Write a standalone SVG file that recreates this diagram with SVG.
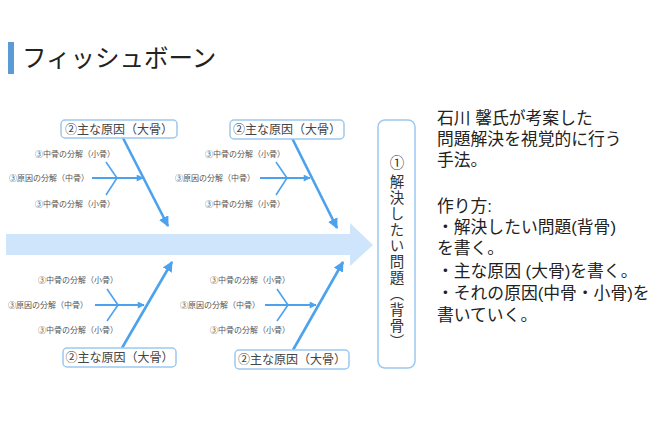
<svg xmlns="http://www.w3.org/2000/svg" width="670" height="446" viewBox="0 0 670 446">
<style>
text{font-family:"Noto Sans CJK JP","Noto Sans",sans-serif;fill:#333}
.title{font-size:24.5px;fill:#222}
.box{fill:#fff;stroke:#9cc9ef;stroke-width:1.5}
.bt{font-size:12px;fill:#444;text-anchor:middle}
.sm{font-size:8px;fill:#555}
.big{stroke:#4da2ee;stroke-width:2.6;fill:none}
.mid{stroke:#4da2ee;stroke-width:2;fill:none}
.small{stroke:#4da2ee;stroke-width:1.6;fill:none}
.desc{font-family:"Liberation Sans","Noto Sans CJK JP",sans-serif;font-size:16.8px;fill:#222}
.v{font-size:14.5px;fill:#333;writing-mode:vertical-rl;letter-spacing:1.5px}
</style>
<defs>
<marker id="ah" viewBox="0 0 10 10" refX="9" refY="5" markerWidth="4" markerHeight="4" orient="auto" markerUnits="strokeWidth">
<path d="M0,0 L10,5 L0,10 z" fill="#4da2ee"/>
</marker>
<marker id="am" viewBox="0 0 10 10" refX="9" refY="5" markerWidth="4" markerHeight="3.5" orient="auto" markerUnits="strokeWidth">
<path d="M0,0 L10,5 L0,10 z" fill="#4da2ee"/>
</marker>
</defs>
<rect width="670" height="446" fill="#fff"/>
<g id="title">
<rect x="8" y="42" width="6" height="32" fill="#5b9bd5"/>
<text class="title" x="22" y="67">フィッシュボーン</text>
</g>
<g id="spine">
<rect x="6" y="234" width="345" height="21" fill="#cfe5fb"/>
<polygon points="350,223 373,245 350,266" fill="#cfe5fb"/>
</g>
<g id="connectors">
<line class="big" x1="123" y1="138" x2="168" y2="226" marker-end="url(#ah)"/>
<line class="big" x1="292" y1="138" x2="337" y2="228" marker-end="url(#ah)"/>
<line class="big" x1="122" y1="348" x2="172" y2="262" marker-end="url(#ah)"/>
<line class="big" x1="293" y1="350" x2="343" y2="262" marker-end="url(#ah)"/>
<line class="mid" x1="92" y1="178" x2="143" y2="178" marker-end="url(#am)"/>
<line class="mid" x1="260" y1="178" x2="310" y2="178" marker-end="url(#am)"/>
<line class="mid" x1="95" y1="305" x2="144" y2="305" marker-end="url(#am)"/>
<line class="mid" x1="265" y1="305" x2="316" y2="305" marker-end="url(#am)"/>
<path class="small" d="M106,162 L117,178 L106,195"/>
<path class="small" d="M276,162 L287,178 L276,195"/>
<path class="small" d="M107,289 L118,305 L107,321"/>
<path class="small" d="M277,289 L288,305 L277,321"/>
</g>
<g id="cause-top-left">
<rect class="box" x="61" y="120" width="116" height="18" rx="4"/>
<text class="bt" x="119" y="133.5">②主な原因（大骨）</text>
</g>
<g id="cause-top-right">
<rect class="box" x="230" y="120" width="114" height="19" rx="4"/>
<text class="bt" x="287" y="134">②主な原因（大骨）</text>
</g>
<g id="cause-bottom-left">
<rect class="box" x="63" y="348" width="113" height="19" rx="4"/>
<text class="bt" x="119.5" y="362">②主な原因（大骨）</text>
</g>
<g id="cause-bottom-right">
<rect class="box" x="235" y="350" width="114" height="19" rx="4"/>
<text class="bt" x="292" y="364">②主な原因（大骨）</text>
</g>
<g id="sub-top-left">
<text class="sm" x="35" y="157">③中骨の分解（小骨）</text>
<text class="sm" x="9" y="181">③原因の分解（中骨）</text>
<text class="sm" x="35" y="207">③中骨の分解（小骨）</text>
</g>
<g id="sub-top-right">
<text class="sm" x="205" y="157">③中骨の分解（小骨）</text>
<text class="sm" x="175" y="181">③原因の分解（中骨）</text>
<text class="sm" x="205" y="207">③中骨の分解（小骨）</text>
</g>
<g id="sub-bottom-left">
<text class="sm" x="38" y="283">③中骨の分解（小骨）</text>
<text class="sm" x="8" y="308">③原因の分解（中骨）</text>
<text class="sm" x="38" y="333">③中骨の分解（小骨）</text>
</g>
<g id="sub-bottom-right">
<text class="sm" x="210" y="283">③中骨の分解（小骨）</text>
<text class="sm" x="180" y="308">③原因の分解（中骨）</text>
<text class="sm" x="210" y="333">③中骨の分解（小骨）</text>
</g>
<g id="problem">
<rect class="box" x="378" y="120" width="37" height="248" rx="7"/>
<text class="v" x="397" y="155">①<tspan dy="3">解決したい問題（背骨）</tspan></text>
</g>
<g id="description">
<text class="desc">
<tspan x="437" y="124">石川 馨氏が考案した</tspan>
<tspan x="437" y="145">問題解決を視覚的に行う</tspan>
<tspan x="437" y="166">手法。</tspan>
<tspan x="437" y="212">作り方:</tspan>
<tspan x="437" y="233">・解決したい問題(背骨)</tspan>
<tspan x="437" y="254">を書く。</tspan>
<tspan x="437" y="277">・主な原因 (大骨)を書く。</tspan>
<tspan x="437" y="299">・それの原因(中骨・小骨)を</tspan>
<tspan x="437" y="321">書いていく。</tspan>
</text>
</g>
</svg>
